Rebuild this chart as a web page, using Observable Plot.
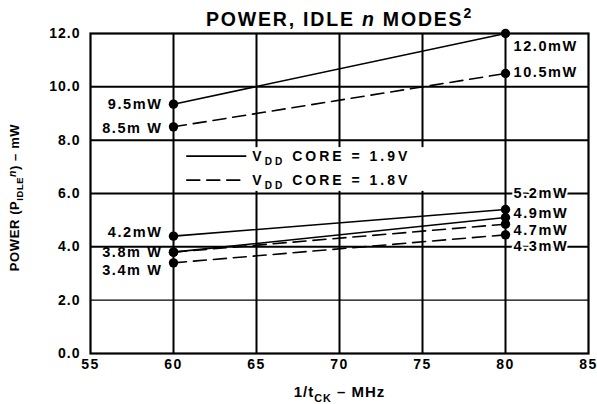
<!DOCTYPE html>
<html><head><meta charset="utf-8">
<script src="https://cdn.jsdelivr.net/npm/d3@7"></script>
<script src="https://cdn.jsdelivr.net/npm/@observablehq/plot@0.6"></script>
<style>body{margin:0;background:#fff}</style>
</head><body><div id="chart"></div>
<script>
const xTicks = [55, 60, 65, 70, 75, 80, 85];
const yTicks = [0, 2, 4, 6, 8, 10, 12];
const freqs = [60, 80];
const seriesVdd = ["1.9V", "1.8V", "1.9V", "1.9V", "1.8V", "1.8V"];
const powerAt60 = [9.35, 8.5, 4.4, 3.8, 3.8, 3.4];
const powerAt80 = [12.0, 10.5, 5.4, 5.1, 4.85, 4.45];
const leftLabels = ["9.5mW", "8.5m W", "4.2mW", "3.8m W", "3.4m W"];
const leftLabelY = [9.35, 8.45, 4.55, 3.8, 3.1];
const rightLabels = ["12.0mW", "10.5mW", "5.2mW", "4.9mW", "4.7mW", "4.3mW"];
const rightLabelY = [11.5, 10.55, 6.0, 5.25, 4.62, 4.0];
const legendVdd = ["1.9V", "1.8V"];
const legendText = ["VDD CORE = 1.9V", "VDD CORE = 1.8V"];
const legendY = [7.4, 6.5];
const legendBox = {x1: 60.25, x2: 79.8, y1: 6.08, y2: 7.72};
const legendLine = {x1: 60.8, x2: 64.35, xText: 64.75};
const titleText = "POWER, IDLE n MODES2";
const xLabel = "1/tCK – MHz";
const yLabel = "POWER (PIDLEn) – mW";
const dashPattern = "13,7";

const rows = seriesVdd.flatMap((v, i) => freqs.map((f, j) => ({id: i, vdd: v, f, p: j ? powerAt80[i] : powerAt60[i]})));
const legendRows = legendVdd.map((v, i) => ({vdd: v, text: legendText[i], y: legendY[i]}));
const legendSegs = legendRows.flatMap((d, i) => [{i, vdd: d.vdd, x: legendLine.x1, y: d.y}, {i, vdd: d.vdd, x: legendLine.x2, y: d.y}]);

const plot = Plot.plot({
  width: 597, height: 404,
  marginLeft: 90, marginRight: 9, marginTop: 33, marginBottom: 51,
  style: "font-family: 'Liberation Sans', Arial, sans-serif; font-weight: bold; font-size: 14px; letter-spacing: 1px; background: white; color: black;",
  x: {domain: [55, 85]},
  y: {domain: [0, 12]},
  marks: [
    Plot.gridX(xTicks.slice(1, -1), {stroke: "black", strokeOpacity: 1, strokeWidth: 2}),
    Plot.gridY(yTicks.slice(2, -1), {stroke: "black", strokeOpacity: 1, strokeWidth: 2}),
    Plot.gridY(yTicks.slice(1, 2), {stroke: "black", strokeOpacity: 1, strokeWidth: 1.3}),
    Plot.rect([legendBox], {x1: "x1", x2: "x2", y1: "y1", y2: "y2", fill: "white"}),
    Plot.frame({stroke: "black", strokeWidth: 2.2}),
    Plot.axisX({ticks: xTicks, tickSize: 0, tickPadding: 6, label: null, tickFormat: d => String(d)}),
    Plot.axisY({ticks: yTicks, tickSize: 0, tickPadding: 10, label: null, tickFormat: d => d.toFixed(1)}),
    Plot.line(rows.filter(d => d.vdd === "1.9V"), {x: "f", y: "p", z: "id", stroke: "black", strokeWidth: 1.6}),
    Plot.line(rows.filter(d => d.vdd === "1.8V"), {x: "f", y: "p", z: "id", stroke: "black", strokeWidth: 1.6, strokeDasharray: dashPattern}),
    Plot.dot(rows, {x: "f", y: "p", r: 4.7, fill: "black"}),
    Plot.line(legendSegs.filter(d => d.vdd === "1.9V"), {x: "x", y: "y", z: "i", stroke: "black", strokeWidth: 1.6}),
    Plot.line(legendSegs.filter(d => d.vdd === "1.8V"), {x: "x", y: "y", z: "i", stroke: "black", strokeWidth: 1.6, strokeDasharray: dashPattern}),
    Plot.text(legendRows, {x: () => legendLine.xText, y: "y", text: "text", textAnchor: "start", fontSize: 14}),
    Plot.text(leftLabels, {x: () => freqs[0], y: (d, i) => leftLabelY[i], text: d => d, textAnchor: "end", dx: -11, fontSize: 14.5}),
    Plot.text(rightLabels, {x: () => freqs[1], y: (d, i) => rightLabelY[i], text: d => d, textAnchor: "start", dx: 8, fontSize: 14.5, stroke: "white", strokeWidth: 4, fill: "black"}),
    Plot.text([titleText], {frameAnchor: "top", lineAnchor: "middle", textAnchor: "middle", dy: -13.5, fontSize: 19.5, text: d => d}),
    Plot.text([xLabel], {frameAnchor: "bottom", lineAnchor: "middle", textAnchor: "middle", dy: 39, fontSize: 15, text: d => d}),
    Plot.text([yLabel], {frameAnchor: "left", lineAnchor: "middle", textAnchor: "middle", dx: -76, dy: 4, rotate: -90, fontSize: 13, text: d => d})
  ]
});
document.getElementById("chart").appendChild(plot);

const svg = d3.select(plot);
function findText(key) {
  return svg.selectAll("text").filter(function() { return this.textContent === key; });
}
function rich(key, parts, fs, ls) {
  findText(key).each(function() {
    const t = d3.select(this);
    t.text(null);
    if (ls != null) t.attr("letter-spacing", ls);
    let cur = 0;
    for (const [s, k] of parts) {
      const target = k.includes("sub") ? fs * 0.32 : k.includes("sup") ? -fs * 0.42 : k.includes("hi") ? -fs * 0.18 : 0;
      const ts = t.append("tspan").text(s);
      if (target - cur !== 0) ts.attr("dy", target - cur);
      cur = target;
      if (k.includes("sub") || k.includes("sup")) ts.attr("font-size", fs * 0.72);
      if (k.includes("hi")) ts.attr("font-size", fs * 0.8);
      if (k.includes("it")) ts.attr("font-style", "italic");
    }
  });
}
rich(titleText, [["POWER, IDLE ", ""], ["n", "it"], [" MODES", ""], ["2", "sup"]], 19.5, 1.8);
rich(xLabel, [["1/t", ""], ["CK", "sub"], [" – MHz", ""]], 15, 1);
rich(yLabel, [["POWER (P", ""], ["IDLE", "sub"], ["n", "hiit"], [") – mW", ""]], 13, 0.6);
legendText.forEach(s => rich(s, [["V", ""], ["DD", "sub"], [s.slice(3), ""]], 14, 3));
svg.selectAll('g[aria-label="x-axis tick label"] text').attr("letter-spacing", 1.5);
leftLabels.concat(rightLabels).forEach(s => findText(s).attr("letter-spacing", 1.6));
</script>
</body></html>
